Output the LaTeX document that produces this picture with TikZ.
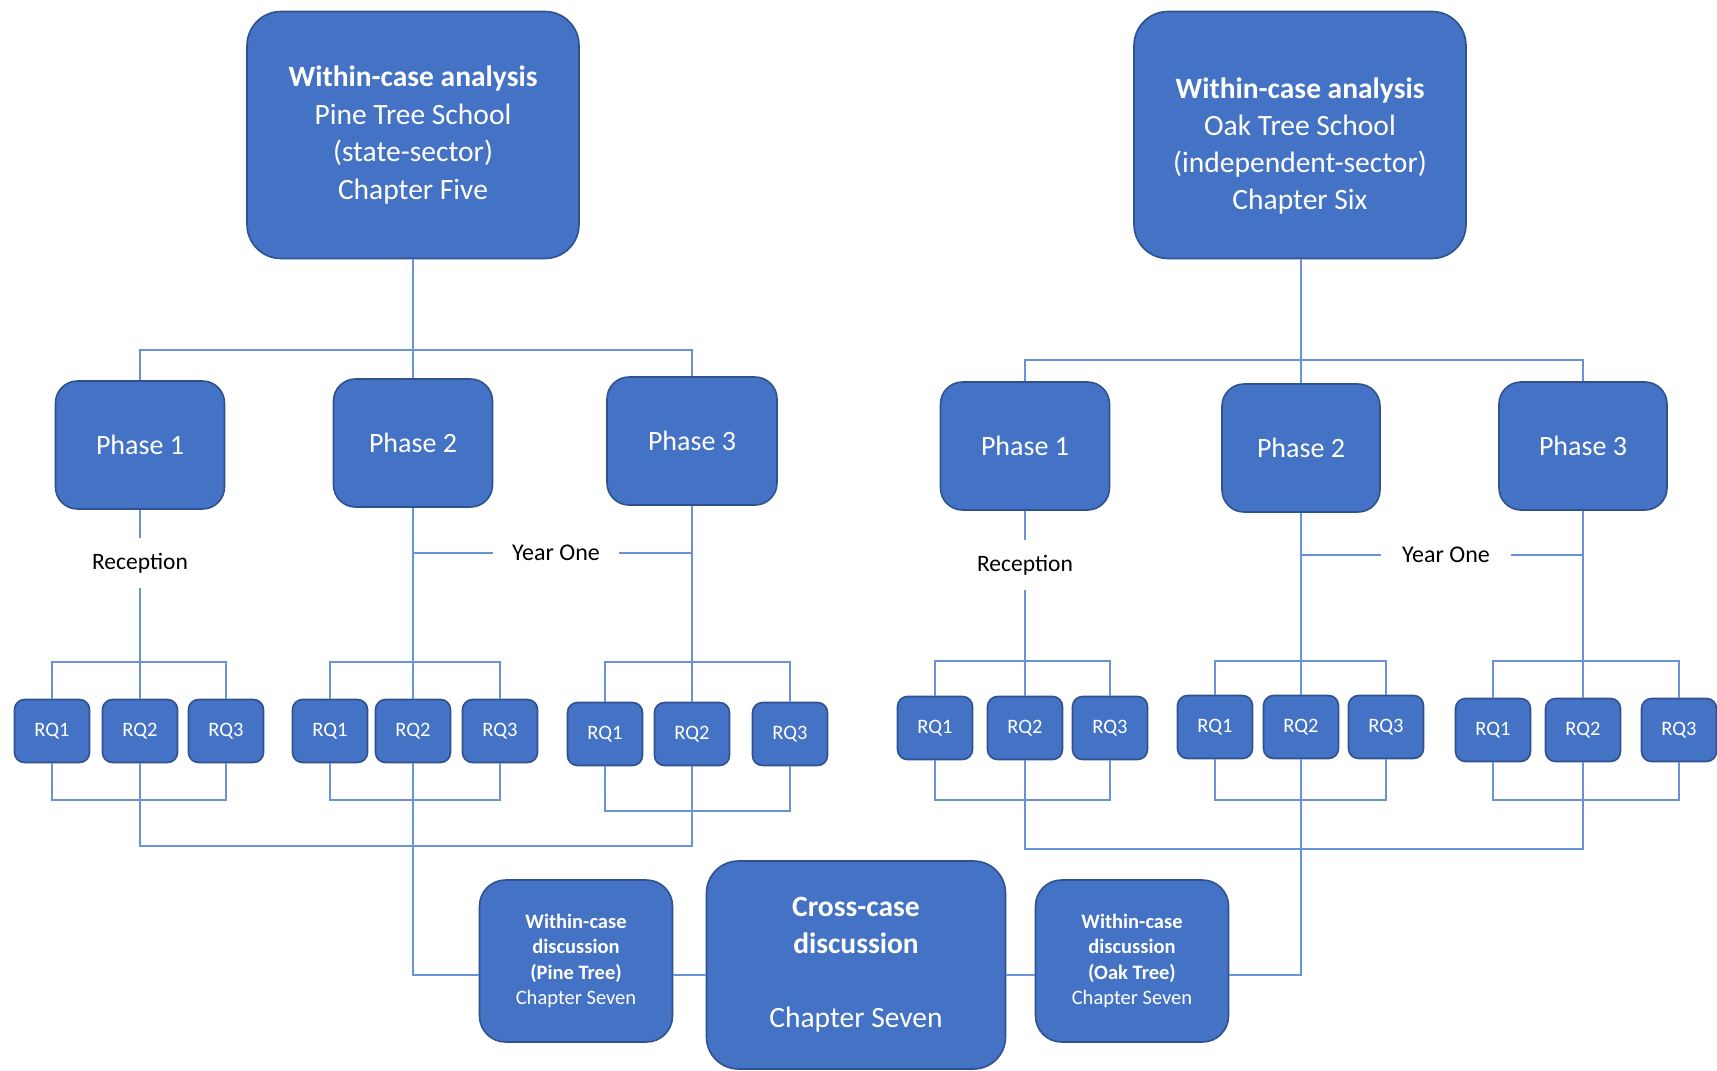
\documentclass[tikz,border=0pt]{standalone}
\usepackage{fontspec}
\setmainfont{Carlito}
\definecolor{boxfill}{HTML}{4472C4}
\definecolor{boxedge}{HTML}{2F528F}
\definecolor{linec}{HTML}{6A92D6}
\begin{document}
\begin{tikzpicture}[x=1pt,y=-1pt,
  basebox/.style={draw=boxedge,line width=1.6pt,fill=boxfill,text=white,align=center,inner sep=0pt},
  bigbox/.style={basebox,rounded corners=34pt,minimum width=332pt,minimum height=247pt,font=\fontsize{29.5}{37.5}\selectfont},
  bigtext/.style={text=white,align=center,inner sep=0pt,font=\fontsize{29.5}{37}\selectfont},
  phasebox/.style={basebox,rounded corners=22pt,minimum height=128pt,font=\fontsize{28}{34}\selectfont},
  rqbox/.style={basebox,rounded corners=10pt,minimum width=75pt,minimum height=63pt,font=\fontsize{20.5}{24}\selectfont},
  discbox/.style={basebox,rounded corners=26pt,minimum width=193pt,minimum height=162pt,font=\fontsize{20.5}{25.2}\selectfont},
  crossbox/.style={basebox,rounded corners=32pt,minimum width=299pt,minimum height=208pt,font=\fontsize{29.5}{37}\selectfont},
  lbl/.style={inner sep=0pt,text=black},
  conn/.style={draw=linec,line width=1.3pt}]
\useasboundingbox (0,0) rectangle (1717,1071);

% top boxes
\node[bigbox] (topL) at (413,135) {\textbf{Within-case analysis}\\Pine Tree School\\(state-sector)\\Chapter Five};
\node[bigbox] (topR) at (1300,135) {};
\node[bigtext] (topRtext) at (1300,146) {\textbf{Within-case analysis}\\Oak Tree School\\(independent-sector)\\Chapter Six};

% phases left
\node[phasebox,minimum width=169pt] (p1L) at (140,445) {Phase 1};
\node[phasebox,minimum width=159pt] (p2L) at (413,443) {Phase 2};
\node[phasebox,minimum width=170pt] (p3L) at (692,441) {Phase 3};
% phases right
\node[phasebox,minimum width=169pt] (p1R) at (1025,446) {Phase 1};
\node[phasebox,minimum width=158pt] (p2R) at (1301,448) {Phase 2};
\node[phasebox,minimum width=168pt] (p3R) at (1583,446) {Phase 3};

% labels
\node[lbl,minimum height=50pt,font=\fontsize{23.5}{28}\selectfont] (recL) at (140,563) {Reception};
\node[lbl,minimum height=50pt,font=\fontsize{23.5}{28}\selectfont] (recR) at (1025,565) {Reception};
\node[lbl,minimum width=126pt,font=\fontsize{24}{28}\selectfont] (yoL) at (556,553) {Year One};
\node[lbl,minimum width=129pt,font=\fontsize{24}{28}\selectfont] (yoR) at (1446,555) {Year One};

% RQ groups left
\node[rqbox] (a1) at (52,731) {RQ1};
\node[rqbox] (a2) at (140,731) {RQ2};
\node[rqbox] (a3) at (226,731) {RQ3};
\node[rqbox] (b1) at (330,731) {RQ1};
\node[rqbox] (b2) at (413,731) {RQ2};
\node[rqbox] (b3) at (500,731) {RQ3};
\node[rqbox] (c1) at (605,734) {RQ1};
\node[rqbox] (c2) at (692,734) {RQ2};
\node[rqbox] (c3) at (790,734) {RQ3};
% RQ groups right
\node[rqbox] (d1) at (935,728) {RQ1};
\node[rqbox] (d2) at (1025,728) {RQ2};
\node[rqbox] (d3) at (1110,728) {RQ3};
\node[rqbox] (e1) at (1215,727) {RQ1};
\node[rqbox] (e2) at (1301,727) {RQ2};
\node[rqbox] (e3) at (1386,727) {RQ3};
\node[rqbox] (f1) at (1493,730) {RQ1};
\node[rqbox] (f2) at (1583,730) {RQ2};
\node[rqbox] (f3) at (1679,730) {RQ3};

% bottom boxes
\node[discbox] (discL) at (576,961) {\textbf{Within-case}\\\textbf{discussion}\\\textbf{(Pine Tree)}\\Chapter Seven};
\node[crossbox] (cross) at (856,965) {\textbf{Cross-case}\\\textbf{discussion}\\[37pt]Chapter Seven};
\node[discbox] (discR) at (1132,961) {\textbf{Within-case}\\\textbf{discussion}\\\textbf{(Oak Tree)}\\Chapter Seven};

% coordinates
\coordinate (hL) at (413,350);
\coordinate (hR) at (1301,360);
\coordinate (jL) at (413,975);
\coordinate (jR) at (1301,975);

% top connectors
\draw[conn] (topL.south) -- (p2L.north);
\draw[conn] (p1L.north) |- (hL) -| (p3L.north);
\draw[conn] (p2R.north |- topR.south) -- (p2R.north);
\draw[conn] (p1R.north) |- (hR) -| (p3R.north);

% phase to RQ
\draw[conn] (p1L.south) -- (recL.north);
\draw[conn] (recL.south) -- (a2.north);
\draw[conn] (p2L.south) -- (b2.north);
\draw[conn] (p3L.south) -- (c2.north);
\draw[conn] (p2L.south |- yoL) -- (yoL.west);
\draw[conn] (yoL.east) -- (p3L.south |- yoL);

\draw[conn] (p1R.south) -- (recR.north);
\draw[conn] (recR.south) -- (d2.north);
\draw[conn] (p2R.south) -- (e2.north);
\draw[conn] (p3R.south) -- (f2.north);
\draw[conn] (p2R.south |- yoR) -- (yoR.west);
\draw[conn] (yoR.east) -- (p3R.south |- yoR);

% brackets left
\draw[conn] (a1.north) |- (140,662) -| (a3.north);
\draw[conn] (a1.south) |- (140,800) -| (a3.south);
\draw[conn] (b1.north) |- (413,662) -| (b3.north);
\draw[conn] (b1.south) |- (413,800) -| (b3.south);
\draw[conn] (c1.north) |- (692,662) -| (c3.north);
\draw[conn] (c1.south) |- (692,811) -| (c3.south);
% brackets right
\draw[conn] (d1.north) |- (1025,661) -| (d3.north);
\draw[conn] (d1.south) |- (1025,800) -| (d3.south);
\draw[conn] (e1.north) |- (1301,661) -| (e3.north);
\draw[conn] (e1.south) |- (1301,800) -| (e3.south);
\draw[conn] (f1.north) |- (1583,661) -| (f3.north);
\draw[conn] (f1.south) |- (1583,800) -| (f3.south);

% long bottom lines
\draw[conn] (a2.south) |- (413,846) -| (c2.south);
\draw[conn] (d2.south) |- (1301,849) -| (f2.south);

% to discussion boxes
\draw[conn] (b2.south) -- (jL) -- (jL -| discL.west);
\draw[conn] (discL.east |- jL) -- (cross.west |- jL);
\draw[conn] (e2.south) -- (jR) -- (jR -| discR.east);
\draw[conn] (discR.west |- jR) -- (cross.east |- jR);
\end{tikzpicture}
\end{document}
